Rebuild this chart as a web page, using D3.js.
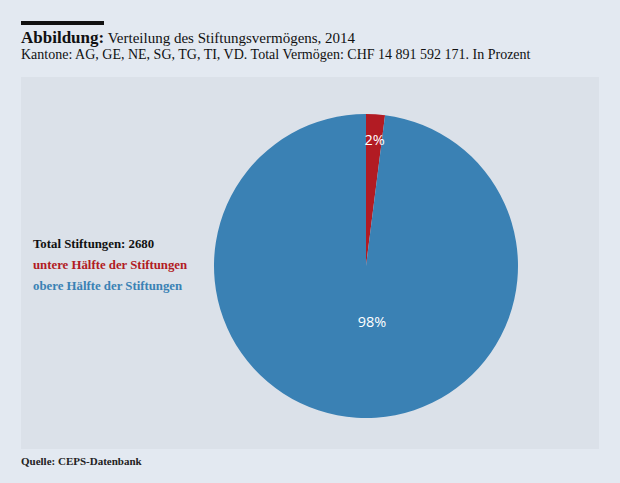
<!DOCTYPE html>
<html>
<head>
<meta charset="utf-8">
<script src="https://cdn.jsdelivr.net/npm/d3@7"></script>
<style>
  html, body { margin: 0; padding: 0; background: #e3e9f1; }
  svg { display: block; }
</style>
</head>
<body>
<svg id="my_viz"></svg>
<script>
// Data
var categories = ["untere Hälfte der Stiftungen", "obere Hälfte der Stiftungen"];
var values = [2, 98];
var sliceLabels = ["2%", "98%"];
var colors = ["#b21b23", "#3a81b4"];
var totalLabel = "Total Stiftungen: 2680";

var svg_width = 620,
    svg_height = 483;

var svg = d3.select("#my_viz")
    .attr("width", svg_width)
    .attr("height", svg_height);

// background
svg.append("rect")
    .attr("width", svg_width)
    .attr("height", svg_height)
    .attr("fill", "#e3e9f1");

// plot panel
svg.append("rect")
    .attr("x", 21)
    .attr("y", 77)
    .attr("width", 578)
    .attr("height", 372)
    .attr("fill", "#dbe1e9");

// black bar above title
svg.append("rect")
    .attr("x", 21)
    .attr("y", 21)
    .attr("width", 83)
    .attr("height", 4)
    .attr("fill", "#111");

var serif = "'Liberation Serif', 'DejaVu Serif', serif";

// Title
var title = svg.append("text")
    .attr("x", 21)
    .attr("y", 43)
    .style("font-family", serif)
    .style("fill", "#111");
title.append("tspan")
    .text("Abbildung:")
    .style("font-size", "17px")
    .style("font-weight", "bold");
title.append("tspan")
    .text(" Verteilung des Stiftungsvermögens, 2014")
    .style("font-size", "15px");

svg.append("text")
    .text("Kantone: AG, GE, NE, SG, TG, TI, VD. Total Vermögen: CHF 14 891 592 171. In Prozent")
    .attr("x", 21)
    .attr("y", 59)
    .style("font-family", serif)
    .style("font-size", "14px")
    .style("fill", "#111");

// Pie
var cx = 366, cy = 266, radius = 152;

var pie = d3.pie().sort(null).value(d => d);
var arc = d3.arc().innerRadius(0).outerRadius(radius);
var arcs = pie(values);

var plot = svg.append("g")
    .attr("id", "plot")
    .attr("transform", "translate(" + cx + "," + cy + ")");

plot.selectAll("path")
    .data(arcs)
    .enter()
    .append("path")
    .attr("d", arc)
    .attr("fill", (d, i) => colors[i]);

// slice labels
var labelArc = d3.arc().innerRadius(radius * 0.8).outerRadius(radius * 0.8);
plot.selectAll("text.slice")
    .data(arcs)
    .enter()
    .append("text")
    .attr("class", "slice")
    .text((d, i) => sliceLabels[i])
    .attr("x", (d, i) => i == 0 ? labelArc.centroid(d)[0] + 1 : 6)
    .attr("y", (d, i) => i == 0 ? -121 : 61)
    .attr("text-anchor", "middle")
    .style("font-family", "'Open Sans', 'Noto Sans', sans-serif")
    .style("font-size", "14.5px")
    .style("fill", "#fff");

// legend
var legend = svg.append("g").attr("id", "legend");
var legendItems = [totalLabel].concat(categories);
var legendColors = ["#111"].concat(colors);

legend.selectAll("text")
    .data(legendItems)
    .enter()
    .append("text")
    .text(d => d)
    .attr("x", 33)
    .attr("y", (d, i) => 248 + i * 21)
    .style("font-family", serif)
    .style("font-size", "12.8px")
    .style("font-weight", "bold")
    .style("fill", (d, i) => legendColors[i]);

// source
svg.append("text")
    .text("Quelle: CEPS-Datenbank")
    .attr("x", 21)
    .attr("y", 465)
    .style("font-family", serif)
    .style("font-size", "11px")
    .style("font-weight", "bold")
    .style("fill", "#222");
</script>
</body>
</html>
